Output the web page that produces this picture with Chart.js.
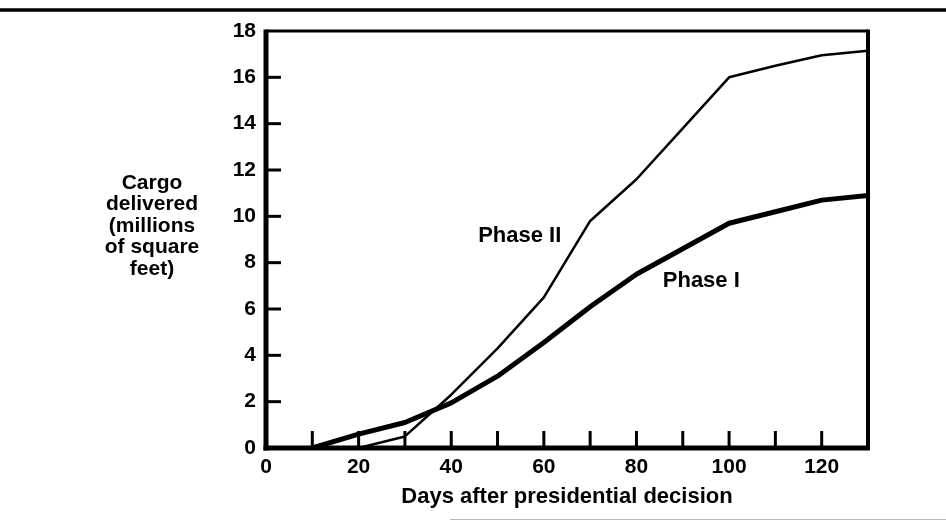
<!DOCTYPE html>
<html>
<head>
<meta charset="utf-8">
<script src="https://cdn.jsdelivr.net/npm/chart.js@4.4.1/dist/chart.umd.min.js"></script>
<style>
  body { margin: 0; background: #fff; }
  canvas { display: block; }
</style>
</head>
<body>
<canvas id="cargoChart" width="946" height="521"></canvas>
<script>
// data
const days = [10, 20, 30, 40, 50, 60, 70, 80, 90, 100, 110, 120, 130];
const phase1 = [0, 0.6, 1.1, 1.95, 3.1, 4.55, 6.1, 7.5, 8.6, 9.7, 10.2, 10.7, 10.9];
const phase2 = [null, 0, 0.5, 2.3, 4.3, 6.5, 9.8, 11.6, 13.8, 16.0, 16.5, 16.95, 17.15];
const yTitleLines = ["Cargo", "delivered", "(millions", "of square", "feet)"];
const xTitle = "Days after presidential decision";
// label anchors in data units
const seriesLabels = [
  { text: "Phase II", x: 54.8, y: 9.17 },
  { text: "Phase I", x: 94.0, y: 7.19 },
];

const FONT = "Liberation Sans, Arial, Helvetica, sans-serif";

const toPoints = (vals) => days.map((d, i) => ({ x: d, y: vals[i] }));

const decor = {
  id: "decor",
  afterDatasetsDraw(chart) {
    const { ctx, chartArea: a, scales } = chart;
    const xs = scales.x, ys = scales.y;
    ctx.save();
    ctx.strokeStyle = "#000";
    ctx.lineCap = "butt";

    // top rule across the page
    ctx.lineWidth = 3.5;
    ctx.beginPath(); ctx.moveTo(0, 10); ctx.lineTo(chart.width, 10); ctx.stroke();

    // faint rule at the bottom
    ctx.strokeStyle = "#bbb";
    ctx.lineWidth = 1;
    ctx.beginPath(); ctx.moveTo(450, 519.5); ctx.lineTo(chart.width, 519.5); ctx.stroke();
    ctx.strokeStyle = "#000";

    // frame
    ctx.lineWidth = 3;
    ctx.beginPath(); ctx.moveTo(a.left, a.top); ctx.lineTo(a.right, a.top); ctx.stroke();
    ctx.lineWidth = 4;
    ctx.beginPath(); ctx.moveTo(a.right, a.top - 1.5); ctx.lineTo(a.right, a.bottom); ctx.stroke();
    ctx.lineWidth = 5;
    ctx.beginPath(); ctx.moveTo(a.left, a.top - 1.5); ctx.lineTo(a.left, a.bottom + 2.5); ctx.stroke();
    ctx.beginPath(); ctx.moveTo(a.left - 2.5, a.bottom); ctx.lineTo(a.right + 2, a.bottom); ctx.stroke();

    // inward tick marks
    ctx.lineWidth = 3;
    xs.ticks.forEach(t => {
      if (t.value <= 0 || t.value >= 130) return;
      const px = xs.getPixelForValue(t.value);
      ctx.beginPath(); ctx.moveTo(px, a.bottom); ctx.lineTo(px, a.bottom - 17); ctx.stroke();
    });
    ys.ticks.forEach(t => {
      if (t.value <= 0 || t.value >= 18) return;
      const py = ys.getPixelForValue(t.value);
      ctx.beginPath(); ctx.moveTo(a.left, py); ctx.lineTo(a.left + 15, py); ctx.stroke();
    });

    // series labels
    ctx.fillStyle = "#000";
    ctx.font = "bold 22px " + FONT;
    ctx.textAlign = "center";
    ctx.textBaseline = "middle";
    seriesLabels.forEach(l => {
      ctx.fillText(l.text, xs.getPixelForValue(l.x), ys.getPixelForValue(l.y));
    });

    // y axis title, horizontal and stacked
    ctx.font = "bold 21px " + FONT;
    yTitleLines.forEach((s, i) => ctx.fillText(s, 152, 183 + i * 21.5));

    // x axis title
    ctx.font = "bold 22px " + FONT;
    ctx.fillText(xTitle, (a.left + a.right) / 2, 497);
    ctx.restore();
  }
};

new Chart(document.getElementById("cargoChart"), {
  type: "line",
  data: {
    datasets: [
      {
        label: "Phase I",
        data: toPoints(phase1),
        borderColor: "#000",
        borderWidth: 5,
        pointRadius: 0,
        tension: 0,
        borderJoinStyle: "round",
        borderCapStyle: "round",
        spanGaps: false,
      },
      {
        label: "Phase II",
        data: toPoints(phase2),
        borderColor: "#000",
        borderWidth: 2.5,
        pointRadius: 0,
        tension: 0,
        borderJoinStyle: "round",
        spanGaps: false,
      },
    ],
  },
  options: {
    responsive: false,
    animation: false,
    events: [],
    layout: { padding: { top: 31, right: 78, left: 0, bottom: 0 } },
    plugins: { legend: { display: false }, tooltip: { enabled: false } },
    scales: {
      x: {
        type: "linear",
        min: 0,
        max: 130,
        afterFit: (s) => { s.height = 73; },
        grid: { display: false, drawTicks: false },
        border: { display: false },
        ticks: {
          stepSize: 10,
          autoSkip: false,
          maxRotation: 0,
          padding: 7,
          color: "#000",
          font: { family: FONT, size: 21, weight: "bold" },
          callback: (v) => (v % 20 === 0 && v <= 120 ? String(v) : ""),
        },
      },
      y: {
        min: 0,
        max: 18,
        afterFit: (s) => { s.width = 266; },
        grid: { display: false, drawTicks: false },
        border: { display: false },
        ticks: {
          stepSize: 2,
          padding: 10,
          color: "#000",
          font: { family: FONT, size: 21, weight: "bold" },
        },
      },
    },
  },
  plugins: [decor],
});
</script>
</body>
</html>
